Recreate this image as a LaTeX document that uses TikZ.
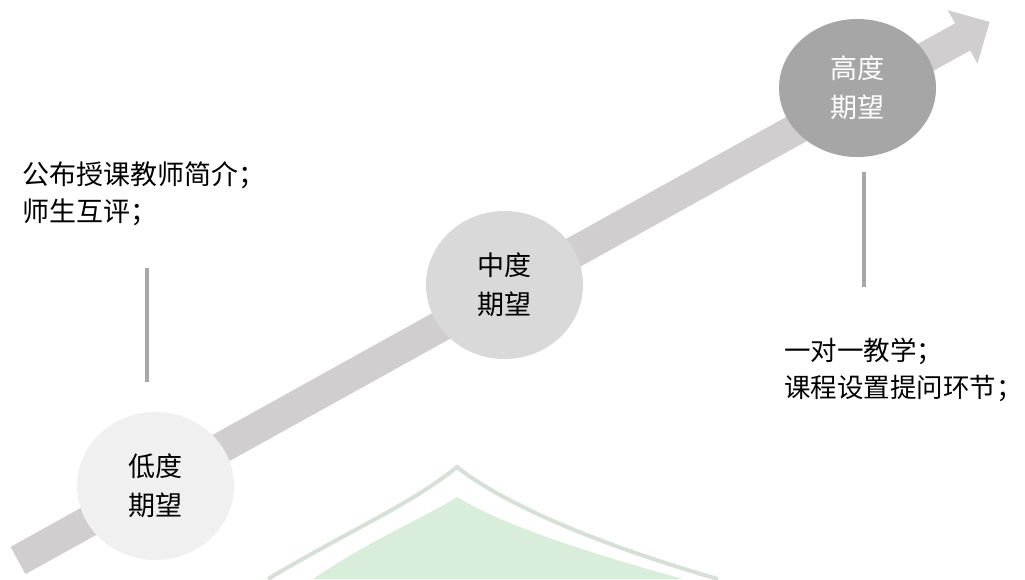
\documentclass[tikz,border=0pt]{standalone}
\usepackage{fontspec}
\setmainfont{Noto Sans CJK SC}
\usetikzlibrary{shapes.geometric}
\definecolor{arrowgray}{HTML}{D0CECF}
\definecolor{lowfill}{HTML}{F0F0F0}
\definecolor{midfill}{HTML}{D9D9D9}
\definecolor{highfill}{HTML}{A6A6A6}
\definecolor{linegray}{HTML}{A9A6A9}
\definecolor{wmstroke}{HTML}{D6E0D8}
\definecolor{wmfill}{HTML}{D8EEDB}
\begin{document}
\begin{tikzpicture}[x=1pt,y=-1pt,
  stage/.style={ellipse, inner sep=0pt, minimum width=157pt, align=center,
    font=\fontsize{27}{39}\selectfont},
  note/.style={anchor=west, inner sep=0pt, align=left,
    font=\fontsize{27}{37}\selectfont},
  tick/.style={draw=linegray, line width=4.5pt}]
\useasboundingbox (0,0) rectangle (1025,579);
% faint watermark
\fill[wmfill] (313,579) .. controls (370,540) and (420,520) .. (457,497)
  .. controls (495,520) and (560,545) .. (683,579) -- cycle;
\draw[wmstroke, line width=4pt] (268,579) .. controls (350,530) and (410,505) .. (457,467)
  .. controls (505,505) and (600,545) .. (718,579);
% main arrow
\fill[arrowgray] (10.5,546.9) -- (955.1,23.3) -- (947.8,10.2) -- (989.7,21.9)
  -- (977.4,63.6) -- (970.1,50.5) -- (25.5,574.1) -- cycle;
% stages
\node[stage, fill=lowfill, minimum height=148pt] (low) at (155.5,486) {低度\\期望};
\node[stage, fill=midfill, minimum height=148pt] (mid) at (504.5,285) {中度\\期望};
\node[stage, fill=highfill, minimum height=138pt, text=white] (high) at (857.5,88) {高度\\期望};
% ticks
\coordinate (la) at (147,268);
\coordinate (lb) at (147,382);
\draw[tick] (la) -- (lb);
\coordinate (ra) at (864,172);
\coordinate (rb) at (864,287);
\draw[tick] (ra) -- (rb);
% notes
\node[note] (lefttext) at (22,193.5) {公布授课教师简介；\\师生互评；};
\node[note, font=\fontsize{26.5}{36.5}\selectfont] (righttext) at (784,370) {一对一教学；\\课程设置提问环节；};
\end{tikzpicture}
\end{document}
